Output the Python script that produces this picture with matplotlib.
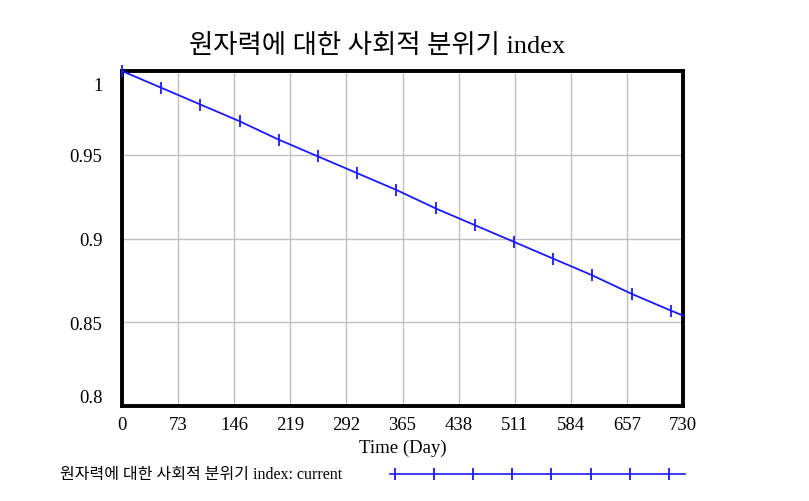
import numpy as np
import matplotlib.pyplot as plt
import matplotlib.transforms as mtransforms
from matplotlib.lines import Line2D

# Données
titre = "원자력에 대한 사회적 분위기 index"
legende = "원자력에 대한 사회적 분위기 index: current"
jours = [0, 51, 102, 153, 204, 255, 306, 357, 408, 459, 510, 561, 612, 663, 714, 730]
valeurs = [1.0, 0.990, 0.980, 0.970, 0.959, 0.949, 0.939, 0.929, 0.918, 0.908,
           0.898, 0.888, 0.878, 0.867, 0.857, 0.854]
xticks = [0, 73, 146, 219, 292, 365, 438, 511, 584, 657, 730]
yticks = [0.8, 0.85, 0.9, 0.95, 1.0]
ylabels = ["0.8", "0.85", "0.9", "0.95", "1"]

polices = ['Liberation Serif', 'Noto Sans CJK KR']
bleu = '#1a1aff'

fig = plt.figure(figsize=(8.09, 5.02), dpi=100)
ax = fig.add_axes([122 / 809, 1 - 407 / 502, 561 / 809, 335 / 502])

ax.plot(jours, valeurs, color=bleu, lw=1.3, marker='|', markersize=9,
        markeredgewidth=1.3, markevery=list(range(len(jours) - 1)), clip_on=False, zorder=3)

ax.set_xlim(0, 730)
ax.set_ylim(0.8, 1.0)
ax.set_xticks(xticks)
ax.set_xticklabels([str(t) for t in xticks], family=polices, fontsize=13.5)
ax.set_yticks(yticks)
ax.set_yticklabels(ylabels, family=polices, fontsize=13.5)
ax.tick_params(axis='x', length=0, pad=7)
ax.tick_params(axis='y', length=0, pad=14)
ax.grid(True, color='#c0c0c0', lw=1)
for sp in ax.spines.values():
    sp.set_linewidth(2.8)
    sp.set_color('black')

# Décalage des étiquettes extrêmes comme dans l'original
labs = ax.get_yticklabels()
labs[0].set_va('bottom')
labs[-1].set_va('top')
labs[-1].set_transform(labs[-1].get_transform() +
                       mtransforms.ScaledTranslation(0, -6 / 100, fig.dpi_scale_trans))

ax.set_xlabel("Time (Day)", family=polices, fontsize=13.5, labelpad=4)

fig.text(377 / 809, 1 - 46 / 502, titre, family=polices, fontsize=19,
         ha='center', va='center')

# Légende en bas
fig.text(60 / 809, 1 - 475 / 502, legende, family=polices, fontsize=11.5,
         ha='left', va='center')
fig.add_artist(Line2D([390 / 809, 685 / 809], [1 - 475 / 502, 1 - 475 / 502],
                      transform=fig.transFigure, color=bleu, lw=1.2))
xm = np.arange(395, 680, 39.1) / 809
fig.add_artist(Line2D(xm, np.full(len(xm), 1 - 475 / 502), transform=fig.transFigure,
                      color=bleu, lw=0, marker='|', markersize=9, markeredgewidth=1.3))

plt.savefig("out.png", dpi=100)
